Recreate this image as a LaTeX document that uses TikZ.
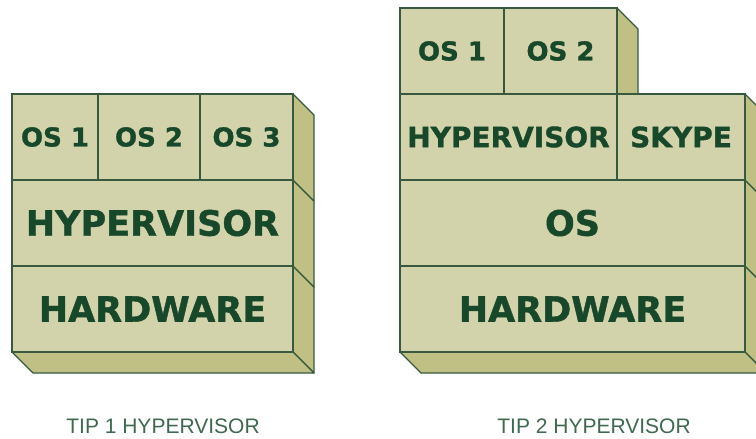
\documentclass[tikz,border=0pt]{standalone}
\usepackage{fontspec}
\setmainfont{DejaVu Sans}[BoldFeatures={FakeBold=1.2}]
\newfontfamily\capfont{Liberation Sans}
\usetikzlibrary{positioning}
\usetikzlibrary{backgrounds}

\definecolor{frontkhaki}{RGB}{211,211,171}
\definecolor{sidekhaki}{RGB}{192,192,133}
\definecolor{edgegreen}{RGB}{55,90,62}
\definecolor{textgreen}{RGB}{24,72,42}
\definecolor{capgreen}{RGB}{62,105,78}

\begin{document}
\begin{tikzpicture}[x=1pt,y=-1pt,node distance=0pt,
	layer/.style={draw=edgegreen,fill=frontkhaki,line width=1.2pt,inner sep=0pt,outer sep=0pt,
		text=textgreen,font=\bfseries\fontsize{26}{26}\selectfont},
	big/.style={font=\bfseries\fontsize{35}{35}\selectfont},
	mid/.style={font=\bfseries\fontsize{28}{28}\selectfont},
	depth/.style={draw=edgegreen,fill=sidekhaki,line width=1.2pt,line join=round},
	caption/.style={text=capgreen,font=\capfont\fontsize{21}{21}\selectfont}]

	\useasboundingbox (0,0) rectangle (756,439);

	% tip 1
	\node[layer, big, minimum width=281, minimum height=86, anchor=north west] (hwA) at (12,266) {HARDWARE};
	\node[layer, big, minimum width=281, minimum height=86] (hypA) [above=of hwA] {HYPERVISOR};
	\node[layer, minimum width=86, minimum height=86] (osA1) [above right=0pt and 0pt of hypA.north west] {OS 1};
	\node[layer, minimum width=102, minimum height=86] (osA2) [right=of osA1] {OS 2};
	\node[layer, minimum width=93, minimum height=86] (osA3) [right=of osA2] {OS 3};

	% tip 2
	\node[layer, big, minimum width=345, minimum height=86, anchor=north west] (hwB) at (400,266) {HARDWARE};
	\node[layer, big, minimum width=345, minimum height=86] (osB) [above=of hwB] {OS};
	\node[layer, mid, minimum width=217, minimum height=86] (hypB) [above right=0pt and 0pt of osB.north west] {HYPERVISOR};
	\node[layer, mid, minimum width=128, minimum height=86] (skype) [right=of hypB] {SKYPE};
	\node[layer, minimum width=104, minimum height=86] (osB1) [above right=0pt and 0pt of hypB.north west] {OS 1};
	\node[layer, minimum width=113, minimum height=86] (osB2) [right=of osB1] {OS 2};

	\begin{scope}[on background layer]
	\foreach \n in {hwA,hypA,osA3,hwB,osB,skype,osB2}
		\draw[depth] (\n.north east) -- ([shift={(21,21)}]\n.north east)
			-- ([shift={(21,21)}]\n.south east) -- (\n.south east) -- cycle;
	\foreach \n in {hwA,hwB}
		\draw[depth] (\n.south west) -- ([shift={(21,21)}]\n.south west)
			-- ([shift={(21,21)}]\n.south east) -- (\n.south east) -- cycle;
	\end{scope}

	\node[caption] (capA) at (163,426) {TIP 1 HYPERVISOR};
	\node[caption] (capB) at (594,426) {TIP 2 HYPERVISOR};
\end{tikzpicture}
\end{document}
